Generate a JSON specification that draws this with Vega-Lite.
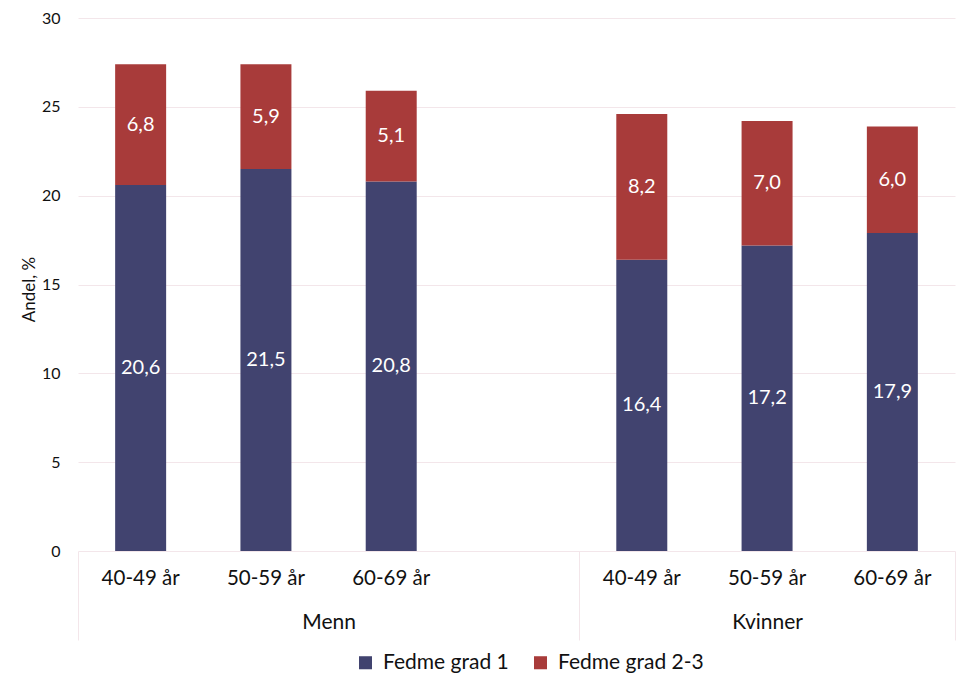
{
  "$schema": "https://vega.github.io/schema/vega-lite/v6.json",
  "width": 877,
  "height": 533,
  "autosize": "none",
  "padding": {"left": 78, "top": 18, "right": 15, "bottom": 139},
  "background": "white",
  "config": {
    "font": "Lato",
    "view": {"stroke": null},
    "locale": {"number": {"decimal": ",", "thousands": " ", "grouping": [3], "currency": ["", " kr"]}}
  },
  "datasets": {
    "obesity": [
      {"key": "Menn|40-49 år", "grade": "Fedme grad 1", "value": 20.6},
      {"key": "Menn|40-49 år", "grade": "Fedme grad 2-3", "value": 6.8},
      {"key": "Menn|50-59 år", "grade": "Fedme grad 1", "value": 21.5},
      {"key": "Menn|50-59 år", "grade": "Fedme grad 2-3", "value": 5.9},
      {"key": "Menn|60-69 år", "grade": "Fedme grad 1", "value": 20.8},
      {"key": "Menn|60-69 år", "grade": "Fedme grad 2-3", "value": 5.1},
      {"key": "Kvinner|40-49 år", "grade": "Fedme grad 1", "value": 16.4},
      {"key": "Kvinner|40-49 år", "grade": "Fedme grad 2-3", "value": 8.2},
      {"key": "Kvinner|50-59 år", "grade": "Fedme grad 1", "value": 17.2},
      {"key": "Kvinner|50-59 år", "grade": "Fedme grad 2-3", "value": 7.0},
      {"key": "Kvinner|60-69 år", "grade": "Fedme grad 1", "value": 17.9},
      {"key": "Kvinner|60-69 år", "grade": "Fedme grad 2-3", "value": 6.0}
    ],
    "groups": [
      {"group": "Menn", "start": 0, "end": 4},
      {"group": "Kvinner", "start": 4, "end": 7}
    ]
  },
  "layer": [
    {
      "data": {"name": "obesity"},
      "transform": [
        {"stack": "value", "groupby": ["key"], "sort": [{"field": "grade", "order": "ascending"}], "as": ["y0", "y1"]},
        {"calculate": "(datum.y0 + datum.y1) / 2", "as": "ymid"}
      ],
      "encoding": {
        "x": {
          "field": "key",
          "type": "nominal",
          "sort": null,
          "scale": {
            "domain": ["Menn|40-49 år", "Menn|50-59 år", "Menn|60-69 år", "Menn| ", "Kvinner|40-49 år", "Kvinner|50-59 år", "Kvinner|60-69 år"],
            "paddingInner": 0.593,
            "paddingOuter": 0.2965
          },
          "axis": {
            "orient": "bottom",
            "title": null,
            "labelExpr": "split(datum.value, '|')[1]",
            "labelAngle": 0,
            "labelFontSize": 20.5,
            "labelColor": "#111111",
            "labelPadding": 17,
            "ticks": false,
            "domain": false,
            "grid": false
          }
        }
      },
      "layer": [
        {
          "mark": {"type": "bar"},
          "encoding": {
            "y": {
              "field": "y1",
              "type": "quantitative",
              "scale": {"domain": [0, 30], "nice": false},
              "axis": {
                "values": [0, 5, 10, 15, 20, 25, 30],
                "title": "Andel, %",
                "titleFontSize": 17,
                "titleFontWeight": "normal",
                "titleColor": "#111111",
                "titleX": -49,
                "titleY": 271,
                "titleAngle": -90,
                "titleAlign": "center",
                "titleBaseline": "middle",
                "labelFontSize": 16,
                "labelColor": "#111111",
                "labelPadding": 18,
                "ticks": false,
                "domain": false,
                "grid": true,
                "gridColor": "#F3E6EA",
                "gridWidth": 1
              }
            },
            "y2": {"field": "y0"},
            "color": {
              "field": "grade",
              "type": "nominal",
              "scale": {"domain": ["Fedme grad 1", "Fedme grad 2-3"], "range": ["#41436F", "#A83B3A"]},
              "legend": {
                "title": null,
                "orient": "none",
                "direction": "horizontal",
                "legendX": 277,
                "legendY": 634,
                "symbolType": "square",
                "symbolSize": 170,
                "symbolStrokeWidth": 0,
                "labelFontSize": 21,
                "labelColor": "#111111",
                "labelOffset": 7,
                "columnPadding": 21
              }
            }
          }
        },
        {
          "mark": {"type": "text", "color": "white", "fontSize": 20, "baseline": "middle", "align": "center"},
          "encoding": {
            "y": {"field": "ymid", "type": "quantitative"},
            "text": {"field": "value", "type": "quantitative", "format": ".1f"}
          }
        }
      ]
    },
    {
      "data": {"name": "groups"},
      "mark": {"type": "rule", "opacity": 0},
      "encoding": {
        "x": {
          "field": "start",
          "type": "quantitative",
          "scale": {"domain": [0, 7], "nice": false, "zero": false},
          "axis": {
            "orient": "bottom",
            "title": null,
            "values": [0, 4, 7],
            "labels": false,
            "domain": false,
            "grid": false,
            "ticks": true,
            "tickSize": 89,
            "tickColor": "#F3E6EA",
            "tickWidth": 1
          }
        },
        "x2": {"field": "end"}
      }
    },
    {
      "data": {"name": "groups"},
      "mark": {"type": "rule", "opacity": 0},
      "encoding": {
        "x": {
          "field": "start",
          "type": "quantitative",
          "scale": {"domain": [0, 7], "nice": false, "zero": false},
          "axis": {
            "orient": "bottom",
            "title": null,
            "values": [2, 5.5],
            "labelExpr": "datum.value == 2 ? 'Menn' : 'Kvinner'",
            "labelFontSize": 21,
            "labelColor": "#111111",
            "labelPadding": 60,
            "labelFlush": false,
            "labelOverlap": false,
            "domain": false,
            "grid": false,
            "ticks": false
          }
        },
        "x2": {"field": "end"}
      }
    }
  ],
  "resolve": {"scale": {"x": "independent"}, "axis": {"x": "independent"}}
}
